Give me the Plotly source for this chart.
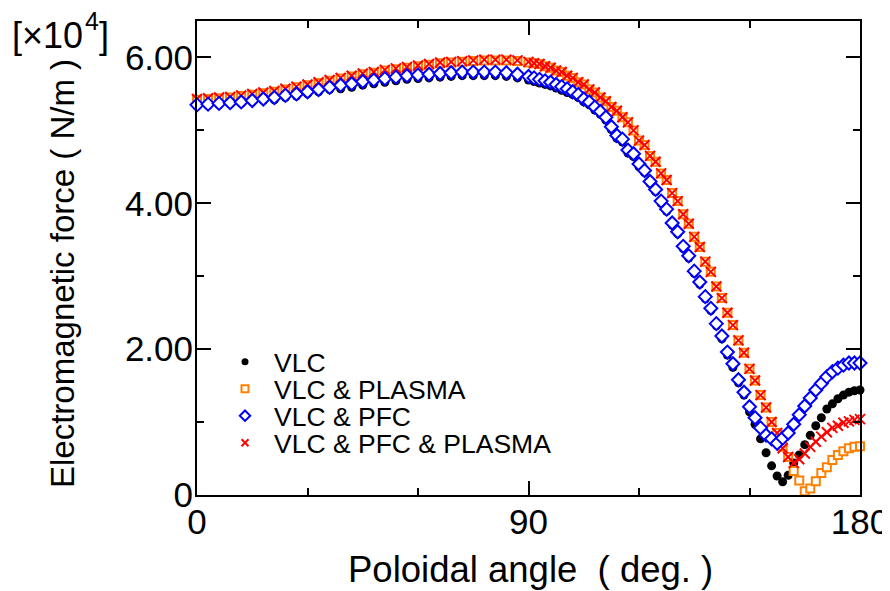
import plotly.graph_objects as go

# Poloidal angle (deg.)
angle_deg = [0, 3, 6, 9, 12, 15, 18, 21, 24, 27, 30, 33, 36, 39, 42, 45, 48, 51, 54, 57,
             60, 63, 66, 69, 72, 75, 78, 81, 84, 87, 90,
             91.5, 93, 94.5, 96, 97.5, 99, 100.5, 102, 103.5, 105, 106.5, 108, 109.5, 111,
             112.5, 114, 115.5, 117, 118.5, 120,
             121.5, 123, 124.5, 126, 127.5, 129, 130.5, 132, 133.5, 135, 136.5, 138, 139.5,
             141, 142.5, 144, 145.5, 147, 148.5, 150,
             151.5, 153, 154.5, 156, 157.5, 159, 160.5, 162, 163.5, 165, 166.5, 168, 169.5,
             171, 172.5, 174, 175.5, 177, 178.5, 180]

# Electromagnetic force [x10^4 N/m]
vlc = [5.33, 5.34, 5.35, 5.36, 5.37, 5.39, 5.41, 5.42, 5.45, 5.47, 5.50, 5.53, 5.56,
       5.57, 5.59, 5.62, 5.64, 5.66, 5.68, 5.70, 5.71, 5.72, 5.73, 5.74, 5.75, 5.75, 5.75,
       5.75, 5.74, 5.72, 5.69,
       5.67, 5.65, 5.63, 5.61, 5.58, 5.55, 5.52, 5.49, 5.45, 5.39, 5.35, 5.28, 5.22, 5.14,
       5.01, 4.89, 4.84, 4.69, 4.64, 4.50,
       4.42, 4.27, 4.16, 4.00, 3.89, 3.70, 3.58, 3.38, 3.25, 3.04, 2.89, 2.69, 2.53, 2.32,
       2.14, 1.92, 1.75, 1.54, 1.37, 1.14,
       0.97, 0.77, 0.58, 0.40, 0.26, 0.18, 0.27, 0.44, 0.55, 0.69, 0.82, 0.95, 1.06, 1.18,
       1.25, 1.32, 1.37, 1.41, 1.43, 1.44]

vlc_plasma = [5.42, 5.43, 5.44, 5.45, 5.47, 5.49, 5.51, 5.53, 5.56, 5.59, 5.62, 5.65, 5.68, 5.71,
              5.74, 5.77, 5.79, 5.82, 5.84, 5.86, 5.88, 5.90, 5.92, 5.93, 5.94, 5.95, 5.96, 5.96,
              5.96, 5.95, 5.93,
              5.92, 5.91, 5.88, 5.86, 5.82, 5.80, 5.75, 5.72, 5.66, 5.63, 5.56, 5.52, 5.45, 5.40,
              5.32, 5.27, 5.18, 5.11, 5.00, 4.86,
              4.80, 4.65, 4.57, 4.41, 4.32, 4.14, 4.03, 3.85, 3.72, 3.54, 3.40, 3.20, 3.06, 2.86,
              2.70, 2.50, 2.33, 2.12, 1.95, 1.73,
              1.57, 1.37, 1.20, 1.00, 0.85, 0.66, 0.52, 0.33, 0.20, 0.05, 0.09, 0.19, 0.30, 0.38,
              0.48, 0.55, 0.60, 0.64, 0.66, 0.67]

vlc_pfc = [5.35, 5.36, 5.37, 5.38, 5.39, 5.41, 5.43, 5.45, 5.48, 5.50, 5.53, 5.56, 5.59, 5.62,
           5.64, 5.67, 5.69, 5.71, 5.73, 5.75, 5.76, 5.77, 5.78, 5.79, 5.80, 5.80, 5.80, 5.80,
           5.79, 5.77, 5.74,
           5.72, 5.70, 5.68, 5.66, 5.63, 5.60, 5.57, 5.53, 5.49, 5.43, 5.39, 5.32, 5.26, 5.18,
           5.05, 4.93, 4.88, 4.73, 4.68, 4.54,
           4.45, 4.30, 4.19, 4.03, 3.92, 3.73, 3.61, 3.41, 3.28, 3.07, 2.92, 2.72, 2.56, 2.35,
           2.18, 1.96, 1.80, 1.58, 1.41, 1.21,
           1.06, 0.92, 0.82, 0.77, 0.71, 0.78, 0.85, 0.97, 1.10, 1.22, 1.33, 1.44, 1.53, 1.62,
           1.69, 1.74, 1.78, 1.81, 1.81, 1.81]

vlc_pfc_plasma = [5.43, 5.44, 5.45, 5.46, 5.48, 5.50, 5.52, 5.54, 5.57, 5.60, 5.63, 5.66, 5.69,
                  5.72, 5.75, 5.78, 5.80, 5.83, 5.85, 5.87, 5.89, 5.91, 5.93, 5.94, 5.95, 5.96,
                  5.97, 5.97, 5.97, 5.96, 5.94,
                  5.92, 5.91, 5.88, 5.86, 5.82, 5.80, 5.75, 5.72, 5.66, 5.63, 5.56, 5.52, 5.45,
                  5.40, 5.32, 5.27, 5.18, 5.11, 5.00, 4.86,
                  4.80, 4.65, 4.57, 4.41, 4.32, 4.14, 4.03, 3.85, 3.72, 3.54, 3.40, 3.20, 3.06,
                  2.86, 2.70, 2.50, 2.33, 2.12, 1.95, 1.73,
                  1.57, 1.37, 1.20, 1.00, 0.85, 0.64, 0.52, 0.44, 0.49, 0.57, 0.66, 0.73, 0.80,
                  0.86, 0.92, 0.95, 0.99, 1.01, 1.03, 1.04]

series_names = ["VLC", "VLC & PLASMA", "VLC & PFC", "VLC & PFC & PLASMA"]
x_tickvals = [0, 90, 180]
x_ticktext = ["0", "90", "180"]
x_minor = [30, 60, 120, 150]
y_tickvals = [0, 2, 4, 6]
y_ticktext = ["0", "2.00", "4.00", "6.00"]
y_minor = [1, 3, 5]

FONT = "Liberation Sans, Arial, sans-serif"

styles = {
    "VLC": dict(symbol="circle", color="black", size=9, line=dict(width=0)),
    "VLC & PLASMA": dict(symbol="square", color="white", size=8, line=dict(width=2, color="#FF8000")),
    "VLC & PFC": dict(symbol="diamond", color="white", size=10, line=dict(width=2, color="#0000FF")),
    "VLC & PFC & PLASMA": dict(symbol="x-thin-open", color="#FF0000", size=10, line=dict(width=2, color="#FF0000")),
}
data = {
    "VLC": vlc,
    "VLC & PLASMA": vlc_plasma,
    "VLC & PFC": vlc_pfc,
    "VLC & PFC & PLASMA": vlc_pfc_plasma,
}

fig = go.Figure()
# drawing order: black, orange, red, blue
for name in ["VLC", "VLC & PLASMA", "VLC & PFC & PLASMA", "VLC & PFC"]:
    fig.add_trace(go.Scatter(x=angle_deg, y=data[name], mode="markers", name=name,
                             marker=styles[name], showlegend=False, cliponaxis=False))

# page has an 8px body margin: figure is drawn 8px right/down
OFF = 8
W, H = 890 - OFF, 591 - OFF
L, T, R, B = 197 - OFF, 21 - OFF, 30, 96
pw, ph = W - L - R, H - T - B

def px_x(p):  # page pixel -> paper x
    return (p - OFF - L) / pw

def px_y(p):  # page pixel -> paper y
    return (H - B - (p - OFF)) / ph

# legend entries (one legend per row for the original's tight row spacing)
legend_sizes = {"VLC": 7, "VLC & PLASMA": 7, "VLC & PFC": 8, "VLC & PFC & PLASMA": 7}
legend_rows = [362, 389, 416, 443]
legend_ids = ["legend", "legend2", "legend3", "legend4"]
legend_layout = {}
for i, name in enumerate(series_names):
    st = dict(styles[name])
    st["size"] = legend_sizes[name]
    fig.add_trace(go.Scatter(x=[None], y=[None], mode="markers", name=name,
                             marker=st, showlegend=True, legend=legend_ids[i]))
    legend_layout[legend_ids[i]] = dict(
        x=px_x(216), y=px_y(legend_rows[i]), xanchor="left", yanchor="middle",
        bgcolor="rgba(0,0,0,0)", borderwidth=0, itemwidth=48,
        font=dict(family=FONT, size=26.5, color="black"))

axis_common = dict(
    showline=True, linecolor="black", linewidth=2, mirror="ticks",
    ticks="inside", ticklen=14, tickwidth=1.5, tickcolor="black",
    showgrid=False, zeroline=False, automargin=False,
    tickfont=dict(family=FONT, size=35, color="black"),
)

fig.update_xaxes(range=[0, 180], tickmode="array", tickvals=x_tickvals, ticktext=x_ticktext,
                 minor=dict(tickmode="array", tickvals=x_minor, ticks="inside", ticklen=7,
                            tickwidth=1.5, tickcolor="black"),
                 ticklabelstandoff=-5, **axis_common)
fig.update_yaxes(range=[0, 6.5], tickmode="array", tickvals=y_tickvals, ticktext=y_ticktext,
                 minor=dict(tickmode="array", tickvals=y_minor, ticks="inside", ticklen=7,
                            tickwidth=1.5, tickcolor="black"),
                 ticklabelstandoff=-5, **axis_common)

fig.add_annotation(text="Poloidal angle  ( deg. )", xref="paper", yref="paper",
                   x=px_x(530), y=px_y(569), xanchor="center", yanchor="middle",
                   showarrow=False, font=dict(family=FONT, size=36.5, color="black"))
fig.add_annotation(text="Electromagnetic force ( N/m )", xref="paper", yref="paper",
                   x=px_x(62), y=px_y(274), xanchor="center", yanchor="middle", textangle=-90,
                   showarrow=False, font=dict(family=FONT, size=33, color="black"))
# multiplier label "[×10⁴]" written as three pieces for exact placement
fig.add_annotation(text="[×10", xref="paper", yref="paper",
                   x=px_x(10), y=px_y(36), xanchor="left", yanchor="middle",
                   showarrow=False, font=dict(family=FONT, size=36, color="black"))
fig.add_annotation(text="4", xref="paper", yref="paper",
                   x=px_x(83), y=px_y(21), xanchor="left", yanchor="middle",
                   showarrow=False, font=dict(family=FONT, size=25, color="black"))
fig.add_annotation(text="]", xref="paper", yref="paper",
                   x=px_x(97), y=px_y(36), xanchor="left", yanchor="middle",
                   showarrow=False, font=dict(family=FONT, size=36, color="black"))

fig.update_layout(
    width=W, height=H,
    margin=dict(l=L, r=R, t=T, b=B, pad=0),
    paper_bgcolor="white", plot_bgcolor="white",
    font=dict(family=FONT, color="black"),
    **legend_layout,
)

fig.write_html("out.html")
